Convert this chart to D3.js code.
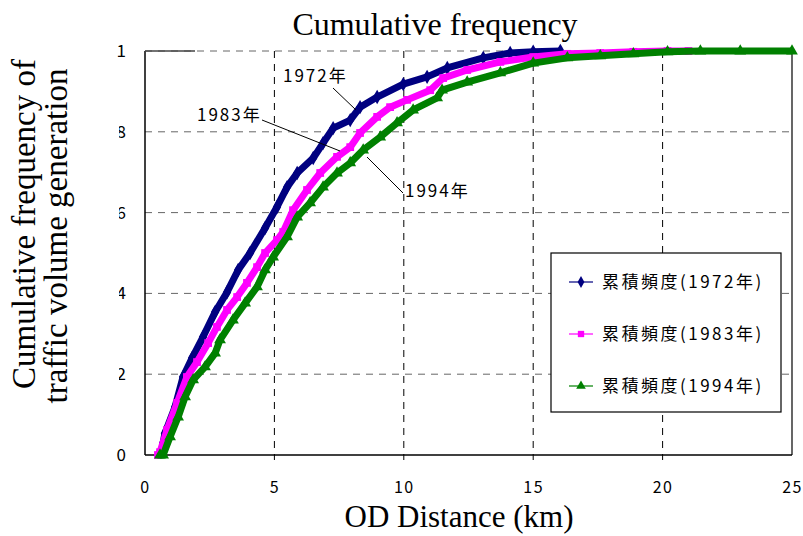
<!DOCTYPE html>
<meta charset="utf-8">
<head>
    <title>Cumulative frequency</title>
    <script src="https://d3js.org/d3.v7.min.js"></script>
</head>

<style>
body { margin: 0; background: #fff; }
.serif { font-family: "Liberation Serif", "Times New Roman", serif; }
.goth { font-family: "Noto Sans CJK JP", "DejaVu Sans", sans-serif; }
</style>

<body>
<svg></svg>

<script>

// x = OD distance (km), y = cumulative frequency
let years = ["1972", "1983", "1994"];

let d1972 = [
  [0.70, 0.03], [0.77, 0.054], [1.16, 0.119], [1.47, 0.193], [1.82, 0.240], [2.24, 0.292],
  [2.71, 0.354], [3.17, 0.403], [3.60, 0.458], [4.06, 0.500], [4.64, 0.562], [5.10, 0.614],
  [5.49, 0.663], [5.88, 0.698], [6.50, 0.735], [6.88, 0.772], [7.27, 0.809], [7.93, 0.829],
  [8.31, 0.861], [8.97, 0.886], [9.98, 0.918], [10.90, 0.936], [11.68, 0.958], [13.07, 0.983],
  [14.11, 0.995], [15.00, 0.998], [16.05, 1.0]
];

let d1983 = [
  [0.50, 0.0], [0.58, 0.007], [0.85, 0.062], [1.24, 0.129], [1.62, 0.193], [2.01, 0.230],
  [2.44, 0.277], [2.78, 0.317], [3.17, 0.359], [3.56, 0.391], [3.94, 0.426], [4.33, 0.465],
  [4.64, 0.500], [5.10, 0.532], [5.34, 0.552], [5.72, 0.606], [6.26, 0.656], [6.77, 0.698],
  [7.42, 0.738], [7.93, 0.762], [8.31, 0.797], [8.97, 0.837], [9.47, 0.861], [10.13, 0.879],
  [11.02, 0.903], [11.52, 0.933], [12.45, 0.953], [13.73, 0.973], [15.00, 0.985], [16.32, 0.993],
  [17.59, 0.995], [18.87, 0.998], [20.19, 1.0], [21.0, 1.0]
];

let d1994 = [
  [0.58, 0.0], [0.70, 0.0], [0.97, 0.045], [1.28, 0.094], [1.55, 0.144], [1.86, 0.186],
  [2.32, 0.218], [2.71, 0.252], [2.90, 0.285], [3.40, 0.334], [3.87, 0.376], [4.33, 0.416],
  [4.64, 0.458], [4.95, 0.490], [5.49, 0.540], [5.88, 0.589], [6.38, 0.624], [6.88, 0.663],
  [7.42, 0.698], [7.93, 0.723], [8.43, 0.755], [9.09, 0.787], [9.74, 0.822], [10.36, 0.854],
  [11.29, 0.884], [11.48, 0.903], [12.45, 0.923], [13.73, 0.946], [15.00, 0.970], [16.32, 0.983],
  [17.59, 0.988], [18.87, 0.993], [20.19, 0.998], [21.46, 1.0], [23.0, 1.0], [25.0, 1.0]
];

let xTicks = [0, 5, 10, 15, 20, 25];
let yTicks = [0, 0.2, 0.4, 0.6, 0.8, 1];
let yTickLabels = ["0", "0.2", "0.4", "0.6", "0.8", "1"];

let series = [
  {name: "累積頻度(1972年)", data: d1972, color: "#000080", shape: d3.symbolDiamond},
  {name: "累積頻度(1983年)", data: d1983, color: "#ff00ff", shape: d3.symbolSquare},
  {name: "累積頻度(1994年)", data: d1994, color: "#008000", shape: d3.symbolTriangle}
];

let margin = {top: 51, right: 11, bottom: 81, left: 145};
let W = 803, H = 536;
let width = W - margin.left - margin.right;
let height = H - margin.top - margin.bottom;

let x = d3.scaleLinear().domain([0, 25]).range([0, width]);
let y = d3.scaleLinear().domain([0, 1]).range([height, 0]);

let svg = d3.select("svg").attr("width", W).attr("height", H);

let g = svg.append("g")
    .attr("transform", "translate(" + margin.left + "," + margin.top + ")");

// grid
g.selectAll(".hgrid").data(yTicks.slice(1)).enter().append("line")
    .attr("x1", 0).attr("x2", width)
    .attr("y1", d => y(d)).attr("y2", d => y(d))
    .attr("stroke", "#666").attr("stroke-dasharray", "7,6");

g.selectAll(".vgrid").data(xTicks.slice(1, -1)).enter().append("line")
    .attr("x1", d => x(d)).attr("x2", d => x(d))
    .attr("y1", 0).attr("y2", height + 5)
    .attr("stroke", "#000").attr("stroke-dasharray", "7,6");

// frame
g.append("line").attr("x1", 0).attr("x2", 0).attr("y1", 0).attr("y2", height).attr("stroke", "#000").attr("stroke-width", 1.5);
g.append("line").attr("x1", 0).attr("x2", width).attr("y1", height).attr("y2", height).attr("stroke", "#000").attr("stroke-width", 1.5);
g.append("line").attr("x1", width).attr("x2", width).attr("y1", 0).attr("y2", height).attr("stroke", "#000").attr("stroke-width", 1.2);
g.append("line").attr("x1", 0).attr("x2", 50).attr("y1", 0).attr("y2", 0).attr("stroke", "#444").attr("stroke-width", 1.5);

// x axis labels
let xAxis = g.append("g")
    .attr("transform", "translate(0," + height + ")")
    .call(d3.axisBottom(x).tickValues(xTicks).tickSize(0).tickPadding(27));
xAxis.select(".domain").remove();
xAxis.selectAll("text")
    .attr("class", "goth")
    .style("font-size", "16px").style("letter-spacing", "1.5px").attr("fill", "#000");

// y axis labels (the decimals are cut off on the left like the original)
let yAxis = svg.append("g")
    .attr("transform", "translate(" + margin.left + "," + margin.top + ")")
    .call(d3.axisLeft(y).tickValues(yTicks).tickFormat((d, i) => yTickLabels[i]).tickSize(0).tickPadding(19));
yAxis.select(".domain").remove();
yAxis.append("clipPath").attr("id", "yclipLocal")
  .append("rect").attr("x", -26).attr("y", -20).attr("width", 30).attr("height", 40);
yAxis.selectAll(".tick")
    .filter((d, i) => yTickLabels[i].length > 1)
    .attr("clip-path", "url(#yclipLocal)");
yAxis.selectAll("text")
    .attr("class", "goth")
    .style("font-size", "17px").attr("fill", "#000");

// series
let line = d3.line().x(d => x(d[0])).y(d => y(d[1]));

series.forEach(function(s) {
  g.append("path")
    .datum(s.data)
    .attr("fill", "none")
    .attr("stroke", s.color)
    .attr("stroke-width", 7)
    .attr("stroke-linejoin", "round")
    .attr("d", line);
  g.selectAll(null).data(s.data).enter().append("path")
    .attr("transform", d => "translate(" + x(d[0]) + "," + y(d[1]) + ")")
    .attr("d", d3.symbol().type(s.shape).size(60))
    .attr("fill", s.color);
});

// annotations
let notes = [
  {text: "1972年", tx: 283, ty: 82, x1: 333, y1: 88, x2: 356, y2: 110},
  {text: "1983年", tx: 197, ty: 121, x1: 262, y1: 120, x2: 340, y2: 151},
  {text: "1994年", tx: 405, ty: 197, x1: 403, y1: 193, x2: 367, y2: 157}
];
notes.forEach(function(n) {
  svg.append("line")
    .attr("x1", n.x1).attr("y1", n.y1).attr("x2", n.x2).attr("y2", n.y2)
    .attr("stroke", "#000").attr("stroke-width", 1);
  svg.append("text")
    .attr("class", "goth")
    .attr("x", n.tx).attr("y", n.ty)
    .style("font-size", "17px").style("letter-spacing", "2px")
    .text(n.text);
});

// legend
let lg = svg.append("g").attr("transform", "translate(551,253)");
lg.append("rect").attr("width", 230).attr("height", 159)
    .attr("fill", "#fff").attr("stroke", "#000").attr("stroke-width", 1.2);

series.forEach(function(s, i) {
  let row = lg.append("g").attr("transform", "translate(0," + (29 + i * 52) + ")");
  row.append("line").attr("x1", 18).attr("x2", 42).attr("y1", 0).attr("y2", 0)
    .attr("stroke", s.color).attr("stroke-width", 1.2);
  row.append("path").attr("transform", "translate(30,0)")
    .attr("d", d3.symbol().type(s.shape).size(40)).attr("fill", s.color);
  row.append("text").attr("class", "goth")
    .attr("x", 51).attr("y", 6)
    .style("font-size", "17px").style("letter-spacing", "2.5px")
    .text(s.name);
});

// titles
svg.append("text").attr("class", "serif")
    .attr("x", 435).attr("y", 35).attr("text-anchor", "middle")
    .style("font-size", "32px").text("Cumulative frequency");

svg.append("text").attr("class", "serif")
    .attr("x", 459).attr("y", 527).attr("text-anchor", "middle")
    .style("font-size", "31px").text("OD Distance (km)");

svg.append("text").attr("class", "serif")
    .attr("transform", "translate(35,224) rotate(-90)").attr("text-anchor", "middle")
    .style("font-size", "33px").text("Cumulative frequency of");

svg.append("text").attr("class", "serif")
    .attr("transform", "translate(67,236) rotate(-90)").attr("text-anchor", "middle")
    .style("font-size", "33px").text("traffic volume generation");

</script>
</body>
